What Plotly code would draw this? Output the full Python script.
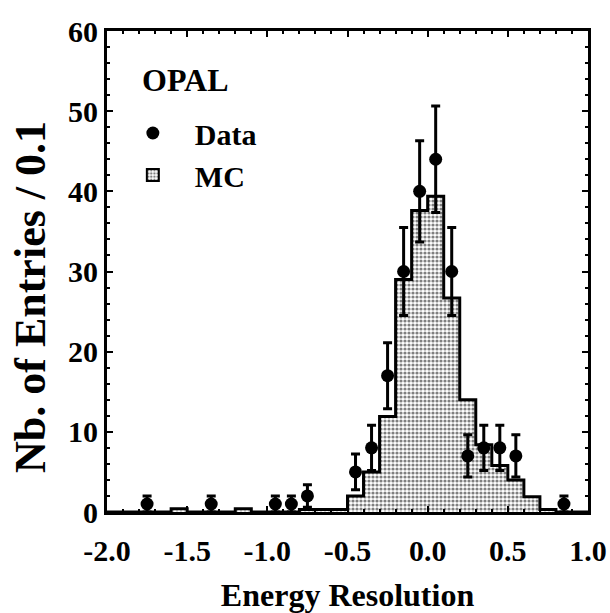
import numpy as np
import plotly.graph_objects as go

# MC histogram: bin edges every 0.1 from -2.0 to 1.0
bin_edges = [round(-2.0 + 0.1 * i, 1) for i in range(31)]
mc_values = [0, 0, 0, 0, 0.4, 0, 0, 0, 0.4, 0,
             0, 0, 0.3, 0.3, 0.3, 2.0, 5.0, 11.9, 29.0, 37.6,
             39.4, 26.7, 14.0, 8.4, 5.8, 4.0, 1.9, 0.3, 0, 0]

# Data points (bin centres) and counts
data_x = [-1.75, -1.35, -0.95, -0.85, -0.75, -0.45, -0.35, -0.25, -0.15,
          -0.05, 0.05, 0.15, 0.25, 0.35, 0.45, 0.55, 0.85]
data_y = [1, 1, 1, 1, 2, 5, 8, 17, 30, 40, 44, 30, 7, 8, 8, 7, 1]
data_err = [float(np.sqrt(v)) for v in data_y]

x_tick_vals = [-2.0, -1.5, -1.0, -0.5, 0.0, 0.5, 1.0]
x_tick_text = ["-2.0", "-1.5", "-1.0", "-0.5", "0.0", "0.5", "1.0"]
y_tick_vals = [0, 10, 20, 30, 40, 50, 60]

FONT = "Liberation Serif"
pattern = dict(shape=".", fgcolor="black", bgcolor="white", size=4, solidity=0.5)

centers = [(bin_edges[i] + bin_edges[i + 1]) / 2 for i in range(len(mc_values))]

fig = go.Figure()
# MC fill
fig.add_trace(go.Bar(
    x=centers, y=mc_values, width=0.1, showlegend=False,
    marker=dict(color="white", pattern=pattern, line=dict(width=0)),
    hoverinfo="skip"))
# MC outline (step)
step_x = bin_edges[:-1] + [bin_edges[-1]]
step_y = mc_values + [mc_values[-1]]
fig.add_trace(go.Scatter(
    x=step_x, y=step_y, mode="lines", line=dict(color="black", width=3, shape="hv"),
    showlegend=False, hoverinfo="skip"))
# MC legend entry
fig.add_trace(go.Bar(
    x=[None], y=[None], name="MC",
    marker=dict(color="white", pattern=pattern, line=dict(color="black", width=2))))
# Data
fig.add_trace(go.Scatter(
    x=data_x, y=data_y, mode="markers", name="Data",
    marker=dict(color="black", size=13, symbol="circle"),
    error_y=dict(type="data", array=data_err, visible=True, color="black",
                 thickness=3, width=4.5)))

axis_common = dict(
    showline=True, linecolor="black", linewidth=3, mirror="ticks",
    ticks="inside", tickcolor="black", tickwidth=2, showgrid=False, zeroline=False,
    automargin=False,
    tickfont=dict(family=FONT, size=30, color="black", weight="bold"),
)

fig.update_xaxes(
    range=[-2.0, 1.0], tickvals=x_tick_vals, ticktext=x_tick_text, ticklen=6,
    ticklabelstandoff=10,
    minor=dict(dtick=0.1, tick0=0, ticklen=3, ticks="inside", tickcolor="black", tickwidth=2),
    title=dict(text="Energy Resolution", font=dict(family=FONT, size=32, color="black", weight="bold"),
               standoff=20),
    **axis_common)
fig.update_yaxes(
    range=[0, 60], tickvals=y_tick_vals, ticklen=6,
    minor=dict(dtick=2, tick0=0, ticklen=3, ticks="inside", tickcolor="black", tickwidth=2),
    **axis_common)

# y-axis title (placed as in the original figure)
fig.add_annotation(text="Nb. of Entries / 0.1", x=-0.158, y=0.447, xref="paper", yref="paper",
                   xanchor="center", yanchor="middle", textangle=-90, showarrow=False,
                   font=dict(family=FONT, size=44, color="black", weight="bold"))

fig.add_annotation(text="OPAL", x=0.069, y=0.898, xref="paper", yref="paper",
                   xanchor="left", yanchor="middle", showarrow=False,
                   font=dict(family=FONT, size=32, color="black", weight="bold"))

fig.update_layout(
    width=610, height=613,
    margin=dict(l=107, r=22, t=31, b=101, autoexpand=False),
    plot_bgcolor="white", paper_bgcolor="white",
    barmode="overlay", bargap=0,
    showlegend=True,
    legend=dict(x=0.008, y=0.842, xanchor="left", yanchor="top", traceorder="reversed",
                font=dict(family=FONT, size=30, color="black", weight="bold"),
                bgcolor="rgba(0,0,0,0)", itemwidth=74, tracegroupgap=0),
)

fig.write_html("out.html")
